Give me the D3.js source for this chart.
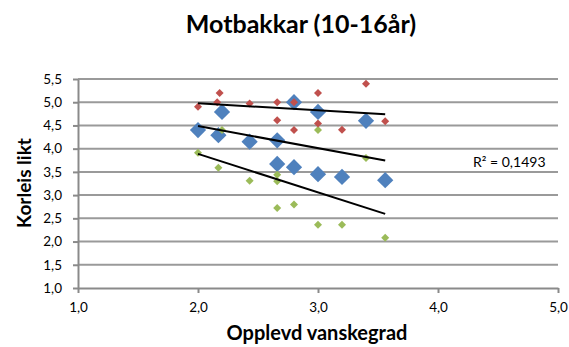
<!DOCTYPE html>
<html>
<head>
<meta charset="utf-8">
<script src="https://cdn.jsdelivr.net/npm/d3@7"></script>
<style>
  body { margin: 0; background: #fff; }
  svg text { font-family: Lato, "Open Sans", "Liberation Sans", sans-serif; fill: #000; }
</style>
</head>
<body>
<svg id="chart" width="569" height="347"></svg>
<script>
// Chart texts
const titleText = "Motbakkar (10-16år)";
const xAxisTitle = "Opplevd vanskegrad";
const yAxisTitle = "Korleis likt";
const r2Text = "R² = 0,1493";

// Axis ticks
const xTickValues = [1, 2, 3, 4, 5];
const yTickValues = [1, 1.5, 2, 2.5, 3, 3.5, 4, 4.5, 5, 5.5];

// Mean rating per group (large blue markers)
const meanX = [2.0, 2.17, 2.2, 2.43, 2.66, 2.66, 2.8, 2.8, 3.0, 3.0, 3.2, 3.4, 3.56];
const meanY = [4.4, 4.29, 4.79, 4.15, 4.18, 3.67, 5.0, 3.6, 4.79, 3.45, 3.39, 4.6, 3.32];

// Highest rating per group (small red markers)
const maxX = [2.0, 2.16, 2.18, 2.43, 2.66, 2.66, 2.8, 2.8, 3.0, 3.0, 3.2, 3.4, 3.56];
const maxY = [4.9, 5.0, 5.2, 4.97, 5.0, 4.61, 5.0, 4.4, 5.2, 4.54, 4.41, 5.4, 4.59];

// Lowest rating per group (small green markers)
const minX = [2.0, 2.17, 2.2, 2.43, 2.66, 2.66, 2.66, 2.8, 3.0, 3.0, 3.2, 3.4, 3.56];
const minY = [3.91, 3.59, 4.4, 3.31, 3.44, 3.3, 2.72, 2.8, 4.4, 2.36, 2.36, 3.8, 2.08];

const series = [
  { xs: meanX, ys: meanY, color: "#4F81BD", size: 132 },
  { xs: minX,  ys: minY,  color: "#9BBB59", size: 32 },
  { xs: maxX,  ys: maxY,  color: "#C0504D", size: 32 }
];

const svg = d3.select("#chart");
const plot = { left: 78, right: 558, top: 79, bottom: 288 };

const x = d3.scaleLinear().domain([1, 5]).range([plot.left, plot.right]);
const y = d3.scaleLinear().domain([1, 5.5]).range([plot.bottom, plot.top]);
const fmt = v => d3.format(".1f")(v).replace(".", ",");
const gridColor = "#9a9a9a";
const axisColor = "#8a8a8a";

// Horizontal gridlines
svg.append("g")
  .selectAll("line")
  .data(yTickValues.filter(v => v > 1))
  .join("line")
  .attr("x1", plot.left).attr("x2", plot.right)
  .attr("y1", d => y(d)).attr("y2", d => y(d))
  .attr("stroke", gridColor).attr("stroke-width", 2);

// Y axis
const yAxis = svg.append("g")
  .attr("transform", `translate(${plot.left},0)`)
  .call(d3.axisLeft(y).tickValues(yTickValues).tickFormat(fmt).tickSize(5).tickSizeOuter(0).tickPadding(11));
yAxis.select(".domain").attr("stroke", axisColor).attr("stroke-width", 2);
yAxis.selectAll(".tick line").attr("stroke", axisColor).attr("stroke-width", 2);
yAxis.selectAll(".tick text").attr("font-size", 13.5).style("font-family", "Lato, sans-serif");

// X axis
const xAxis = svg.append("g")
  .attr("transform", `translate(0,${plot.bottom})`)
  .call(d3.axisBottom(x).tickValues(xTickValues).tickFormat(fmt).tickSize(5).tickSizeOuter(0).tickPadding(9));
xAxis.select(".domain").attr("stroke", axisColor).attr("stroke-width", 2);
xAxis.selectAll(".tick line").attr("stroke", axisColor).attr("stroke-width", 2);
xAxis.selectAll(".tick text").attr("font-size", 13.5).style("font-family", "Lato, sans-serif");

// Markers: rotated squares form the diamonds
series.forEach(s => {
  const pts = s.xs.map((xv, i) => [xv, s.ys[i]]);
  svg.append("g")
    .selectAll("path")
    .data(pts)
    .join("path")
    .attr("d", d3.symbol(d3.symbolSquare, s.size))
    .attr("transform", d => `translate(${x(d[0])},${y(d[1])}) rotate(45)`)
    .attr("fill", s.color);
});

// Linear trendlines (least squares) over each series' x range
function fitLine(xs, ys) {
  const mx = d3.mean(xs), my = d3.mean(ys);
  let sxy = 0, sxx = 0;
  xs.forEach((xv, i) => { sxy += (xv - mx) * (ys[i] - my); sxx += (xv - mx) ** 2; });
  const b = sxy / sxx, a = my - b * mx;
  const x0 = d3.min(xs), x1 = d3.max(xs);
  return [[x0, a + b * x0], [x1, a + b * x1]];
}
const lineGen = d3.line().x(d => x(d[0])).y(d => y(d[1]));
series.forEach(s => {
  svg.append("path")
    .attr("d", lineGen(fitLine(s.xs, s.ys)))
    .attr("stroke", "#000").attr("stroke-width", 2).attr("fill", "none");
});

// R² label
svg.append("text")
  .attr("x", 473).attr("y", 167)
  .attr("font-size", 14)
  .text(r2Text);

// Title
svg.append("text")
  .attr("x", 301).attr("y", 33)
  .attr("text-anchor", "middle")
  .attr("font-size", 25).attr("font-weight", "bold")
  .text(titleText);

// Axis titles
svg.append("text")
  .attr("x", 317).attr("y", 340)
  .attr("text-anchor", "middle")
  .attr("font-size", 20).attr("font-weight", "bold")
  .text(xAxisTitle);

svg.append("text")
  .attr("transform", "translate(31,183) rotate(-90)")
  .attr("text-anchor", "middle")
  .attr("font-size", 19).attr("font-weight", "bold")
  .text(yAxisTitle);
</script>
</body>
</html>
